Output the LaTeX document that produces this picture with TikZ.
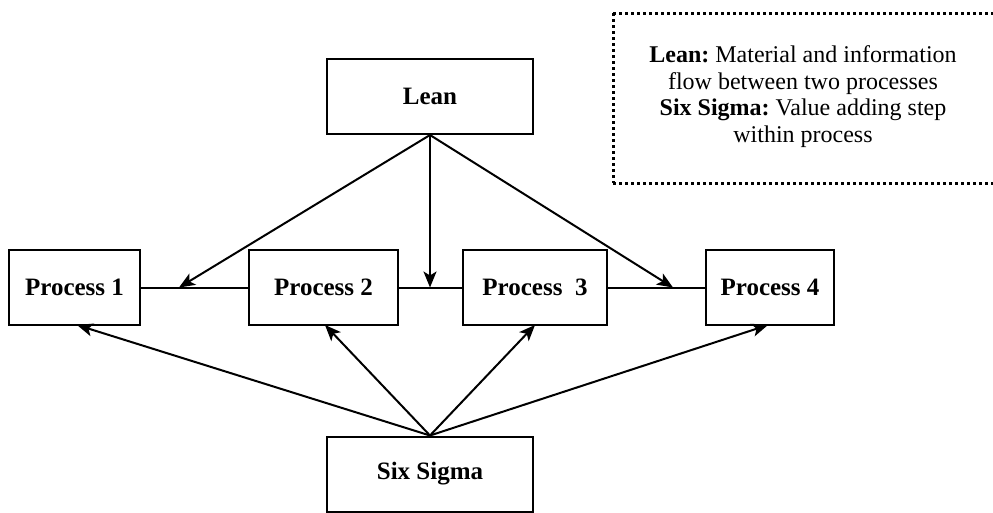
\documentclass[tikz,border=0pt]{standalone}
\usepackage{fontspec}
\setmainfont{Liberation Serif}
\usetikzlibrary{arrows.meta}
\frenchspacing
\begin{document}
\begin{tikzpicture}[x=1pt,y=-1pt,
  box/.style={draw, line width=2pt, minimum height=75pt, inner sep=0pt,
    font=\fontsize{25}{28}\selectfont\bfseries},
  link/.style={line width=2pt},
  flow/.style={line width=2pt, -{Stealth[length=16pt,width=13pt,inset=4pt]}},
  note/.style={line width=3pt, dash pattern=on 3pt off 3pt}]
\useasboundingbox (0,0) rectangle (993,512);
\clip (0,0) rectangle (993,512);

% top and bottom drivers
\node[box, minimum width=206pt] (lean) at (430,96.5) {Lean};
\node[box, minimum width=206pt] (six) at (430,474) {Six Sigma};

% process chain
\node[box, minimum width=131pt] (p1) at (74.5,287.5) {Process 1};
\node[box, minimum width=149pt] (p2) at (323.5,287.5) {Process 2};
\node[box, minimum width=144pt] (p3) at (535,287.5) {Process\ \ 3};
\node[box, minimum width=128pt] (p4) at (770,287.5) {Process 4};

\draw[link] (p1.east) -- (p2.west);
\draw[link] (p2.east) -- (p3.west);
\draw[link] (p3.east) -- (p4.west);

% Lean acts on the flows between processes
\coordinate (m12) at (179,287.5);
\coordinate (m23) at (430,287.5);
\coordinate (m34) at (673,287.5);
\draw[flow] (lean.south) -- (m12);
\draw[flow] (lean.south) -- (m23);
\draw[flow] (lean.south) -- (m34);

% Six Sigma acts within each process
\coordinate (t1) at (77,325);
\coordinate (t2) at (325,325);
\coordinate (t3) at (535,325);
\coordinate (t4) at (768,325);
\draw[flow] (six.north) -- (t1);
\draw[flow] (six.north) -- (t2);
\draw[flow] (six.north) -- (t3);
\draw[flow] (six.north) -- (t4);

% legend
\draw[note] (613,13) -- (1000,13);
\draw[note] (613,183) -- (1000,183);
\draw[note] (613,13) -- (613,183);
\node[align=center, inner sep=0pt, font=\fontsize{24}{26.7}\selectfont] (legend) at (803,96.5)
  {\textbf{Lean:} Material and information\\flow between two processes\\
   \textbf{Six Sigma:} Value adding step\\within process};
\end{tikzpicture}
\end{document}
